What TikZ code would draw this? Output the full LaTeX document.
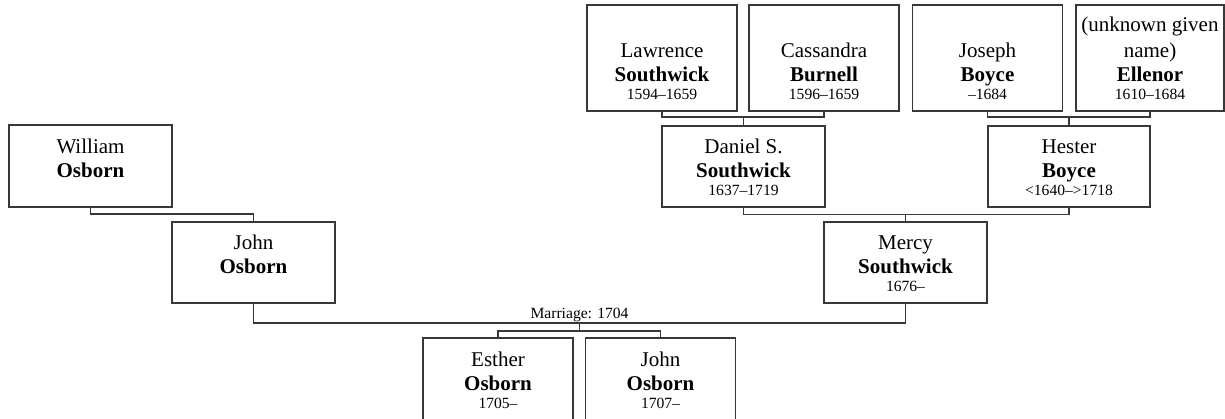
\documentclass[tikz,border=0pt]{standalone}
\usepackage{fontspec}
\setmainfont{Liberation Serif}
\usetikzlibrary{calc}
\begin{document}
\begin{tikzpicture}[x=1pt,y=-1pt,
  box/.style={draw=black!78, line width=1.2pt, rectangle, inner sep=0pt, outer sep=0pt, fill=white},
  conn/.style={draw=black!78, line width=1.2pt},
  given/.style={anchor=base, yshift=53.5pt, inner sep=0pt, font=\fontsize{21}{25}\selectfont},
  givenA/.style={anchor=base, yshift=80pt, inner sep=0pt, font=\fontsize{21}{25}\selectfont},
  sur/.style={anchor=base, yshift=29.5pt, inner sep=0pt, font=\fontsize{21}{25}\selectfont\bfseries},
  dates/.style={anchor=base, yshift=11.5pt, inner sep=0pt, font=\fontsize{15.6}{18}\selectfont},
  lab/.style={anchor=base, yshift=4.5pt, inner sep=0pt, font=\fontsize{15.6}{18}\selectfont}]
\useasboundingbox (0,0) rectangle (1225,418);
% boxes: center x, top y, width, height
\node[box, minimum width=150pt, minimum height=106pt] (law) at (662,58) {};
\node[box, minimum width=150pt, minimum height=106pt] (cas) at (824,58) {};
\node[box, minimum width=150pt, minimum height=106pt] (jos) at (987.5,58) {};
\node[box, minimum width=148pt, minimum height=106pt] (ell) at (1150,58) {};
\node[box, minimum width=163pt, minimum height=81pt] (dan) at (743.5,166.5) {};
\node[box, minimum width=162pt, minimum height=81pt] (hes) at (1069,166.5) {};
\node[box, minimum width=163pt, minimum height=82pt] (wil) at (90.5,166) {};
\node[box, minimum width=163pt, minimum height=81pt] (joh) at (253.5,262.5) {};
\node[box, minimum width=163pt, minimum height=81pt] (mer) at (905.5,262.5) {};
\node[box, minimum width=150pt, minimum height=82pt] (est) at (498,379) {};
\node[box, minimum width=150pt, minimum height=82pt] (jo2) at (660.5,379) {};
% texts
\node[given] (law-g) at (law.south) {Lawrence};
\node[sur] (law-s) at (law.south) {Southwick};
\node[dates] (law-d) at (law.south) {1594–1659};
\node[given] (cas-g) at (cas.south) {Cassandra};
\node[sur] (cas-s) at (cas.south) {Burnell};
\node[dates] (cas-d) at (cas.south) {1596–1659};
\node[given] (jos-g) at (jos.south) {Joseph};
\node[sur] (jos-s) at (jos.south) {Boyce};
\node[dates] (jos-d) at (jos.south) {–1684};
\node[givenA] (ell-a) at (ell.south) {(unknown given};
\node[given] (ell-g) at (ell.south) {name)};
\node[sur] (ell-s) at (ell.south) {Ellenor};
\node[dates] (ell-d) at (ell.south) {1610–1684};
\node[given] (dan-g) at (dan.south) {Daniel S.};
\node[sur] (dan-s) at (dan.south) {Southwick};
\node[dates] (dan-d) at (dan.south) {1637–1719};
\node[given] (hes-g) at (hes.south) {Hester};
\node[sur] (hes-s) at (hes.south) {Boyce};
\node[dates] (hes-d) at (hes.south) {<1640–>1718};
\node[given] (wil-g) at (wil.south) {William};
\node[sur] (wil-s) at (wil.south) {Osborn};
\node[given] (joh-g) at (joh.south) {John};
\node[sur] (joh-s) at (joh.south) {Osborn};
\node[given] (mer-g) at (mer.south) {Mercy};
\node[sur] (mer-s) at (mer.south) {Southwick};
\node[dates] (mer-d) at (mer.south) {1676–};
\node[given] (est-g) at (est.south) {Esther};
\node[sur] (est-s) at (est.south) {Osborn};
\node[dates] (est-d) at (est.south) {1705–};
\node[given] (jo2-g) at (jo2.south) {John};
\node[sur] (jo2-s) at (jo2.south) {Osborn};
\node[dates] (jo2-d) at (jo2.south) {1707–};
% connectors
\coordinate (j1) at ([yshift=9pt]dan.north);
\draw[conn] (law.south) |- (j1) -| (cas.south);
\draw[conn] (j1) -- (dan.north);
\coordinate (j4) at ([yshift=9pt]hes.north);
\draw[conn] (jos.south) |- (j4) -| (ell.south);
\draw[conn] (j4) -- (hes.north);
\coordinate (j3) at ([yshift=7.5pt]mer.north);
\draw[conn] (dan.south) |- (j3) -| (hes.south);
\draw[conn] (j3) -- (mer.north);
\coordinate (j2) at ([yshift=8pt]joh.north);
\draw[conn] (wil.south) |- (j2) -- (joh.north);
\coordinate (jm) at ($(joh.south)!0.5!(mer.south)+(0,20)$);
\draw[conn] (joh.south) |- (jm) -| (mer.south);
\node[lab] (mlab) at (jm) {Marriage: 1704};
\coordinate (jc) at ($(est.north -| jm)+(0,-7)$);
\draw[conn] (jm) -- (jc);
\draw[conn] (est.north) |- (jc) -| (jo2.north);
\end{tikzpicture}
\end{document}
